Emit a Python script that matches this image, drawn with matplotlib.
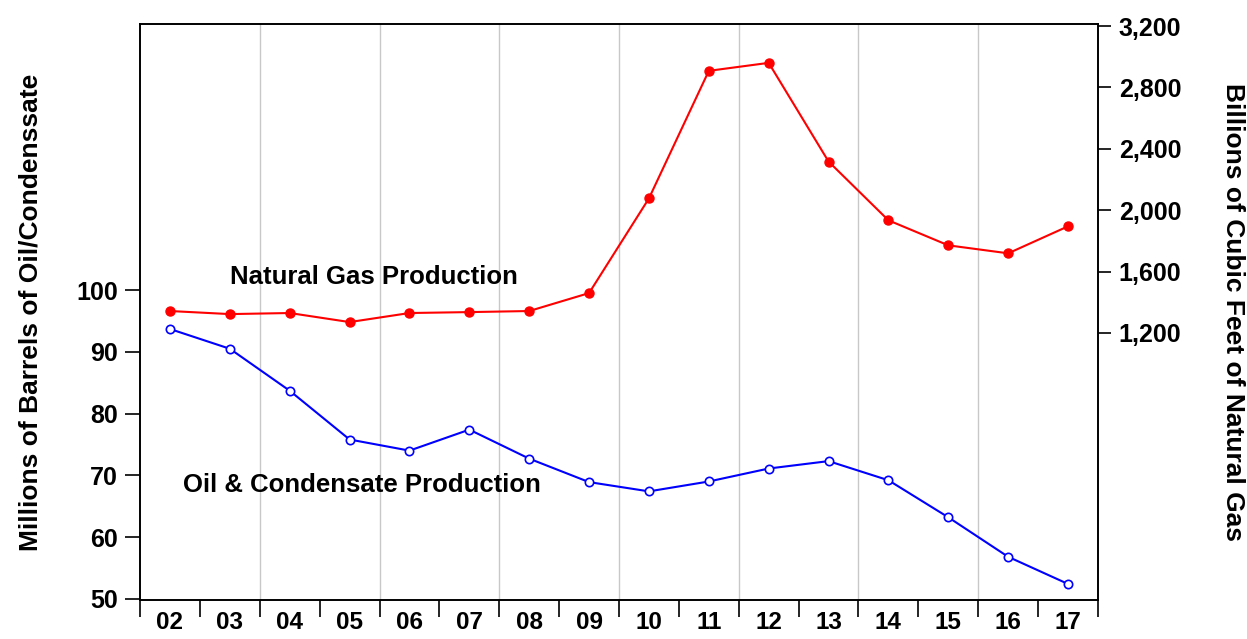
import numpy as np
import matplotlib
matplotlib.use("Agg")
import matplotlib.pyplot as plt
from matplotlib.ticker import FuncFormatter

plt.rcParams['font.family'] = ['Liberation Sans', 'DejaVu Sans']
plt.rcParams['font.weight'] = 'bold'

years = ['02', '03', '04', '05', '06', '07', '08', '09',
         '10', '11', '12', '13', '14', '15', '16', '17']
oil = [93.7, 90.5, 83.7, 75.8, 74.0, 77.4, 72.7, 68.9,
       67.4, 69.0, 71.1, 72.3, 69.2, 63.2, 56.8, 52.4]
gas = [1343, 1323, 1330, 1271, 1330, 1336, 1343, 1460,
       2077, 2908, 2960, 2317, 1934, 1771, 1719, 1895]

x = np.arange(len(years))

fig = plt.figure(figsize=(12.47, 6.39), dpi=100)
ax = fig.add_axes([0.1123, 0.061, 0.7682, 0.9014])
ax2 = ax.twinx()

# grid lines at every other boundary
for g in np.arange(1.5, len(years) - 1, 2):
    ax.axvline(g, color='#c8c8c8', linewidth=1.0, zorder=0)

ax.plot(x, oil, color='blue', linewidth=1.5, marker='o', markersize=6,
        markerfacecolor='white', markeredgecolor='blue', markeredgewidth=1.2, zorder=3)
ax2.plot(x, gas, color='red', linewidth=1.5, marker='o', markersize=6.5,
         markerfacecolor='red', markeredgecolor='red', zorder=3)

ax.set_xlim(-0.5, len(years) - 0.5)
ax.set_ylim(49.8, 143.1)
ax2.set_ylim(-540, 3213)

ax.set_yticks([50, 60, 70, 80, 90, 100])
ax2.set_yticks([1200, 1600, 2000, 2400, 2800, 3200])
ax2.yaxis.set_major_formatter(FuncFormatter(lambda v, p: f"{int(v):,}"))

ax.set_xticks(np.arange(-0.5, len(years), 1.0))
ax.set_xticklabels([])
ax.set_xticks(x, minor=True)
ax.set_xticklabels(years, minor=True)
ax.tick_params(axis='x', which='major', direction='out', length=12, width=1.2)
ax.tick_params(axis='x', which='minor', length=0, labelsize=17.5, pad=8)
ax.tick_params(axis='y', direction='out', length=11, width=1.2, labelsize=18, pad=5)
ax2.tick_params(axis='y', direction='out', length=9, width=1.2, labelsize=18, pad=6)

for a in (ax, ax2):
    for s in a.spines.values():
        s.set_linewidth(1.2)

ax.set_ylabel('Millions of Barrels of Oil/Condenssate', fontsize=19,
              fontweight='bold', labelpad=24)
ax2.set_ylabel('Billions of Cubic Feet of Natural Gas', fontsize=19,
               fontweight='bold', rotation=270, labelpad=46)

ax.text(3.4, 102.1, 'Natural Gas Production', fontsize=18.5, fontweight='bold',
        ha='center', va='center')
ax.text(3.2, 68.4, 'Oil & Condensate Production', fontsize=18.5, fontweight='bold',
        ha='center', va='center')

fig.savefig('out.png', dpi=100)
